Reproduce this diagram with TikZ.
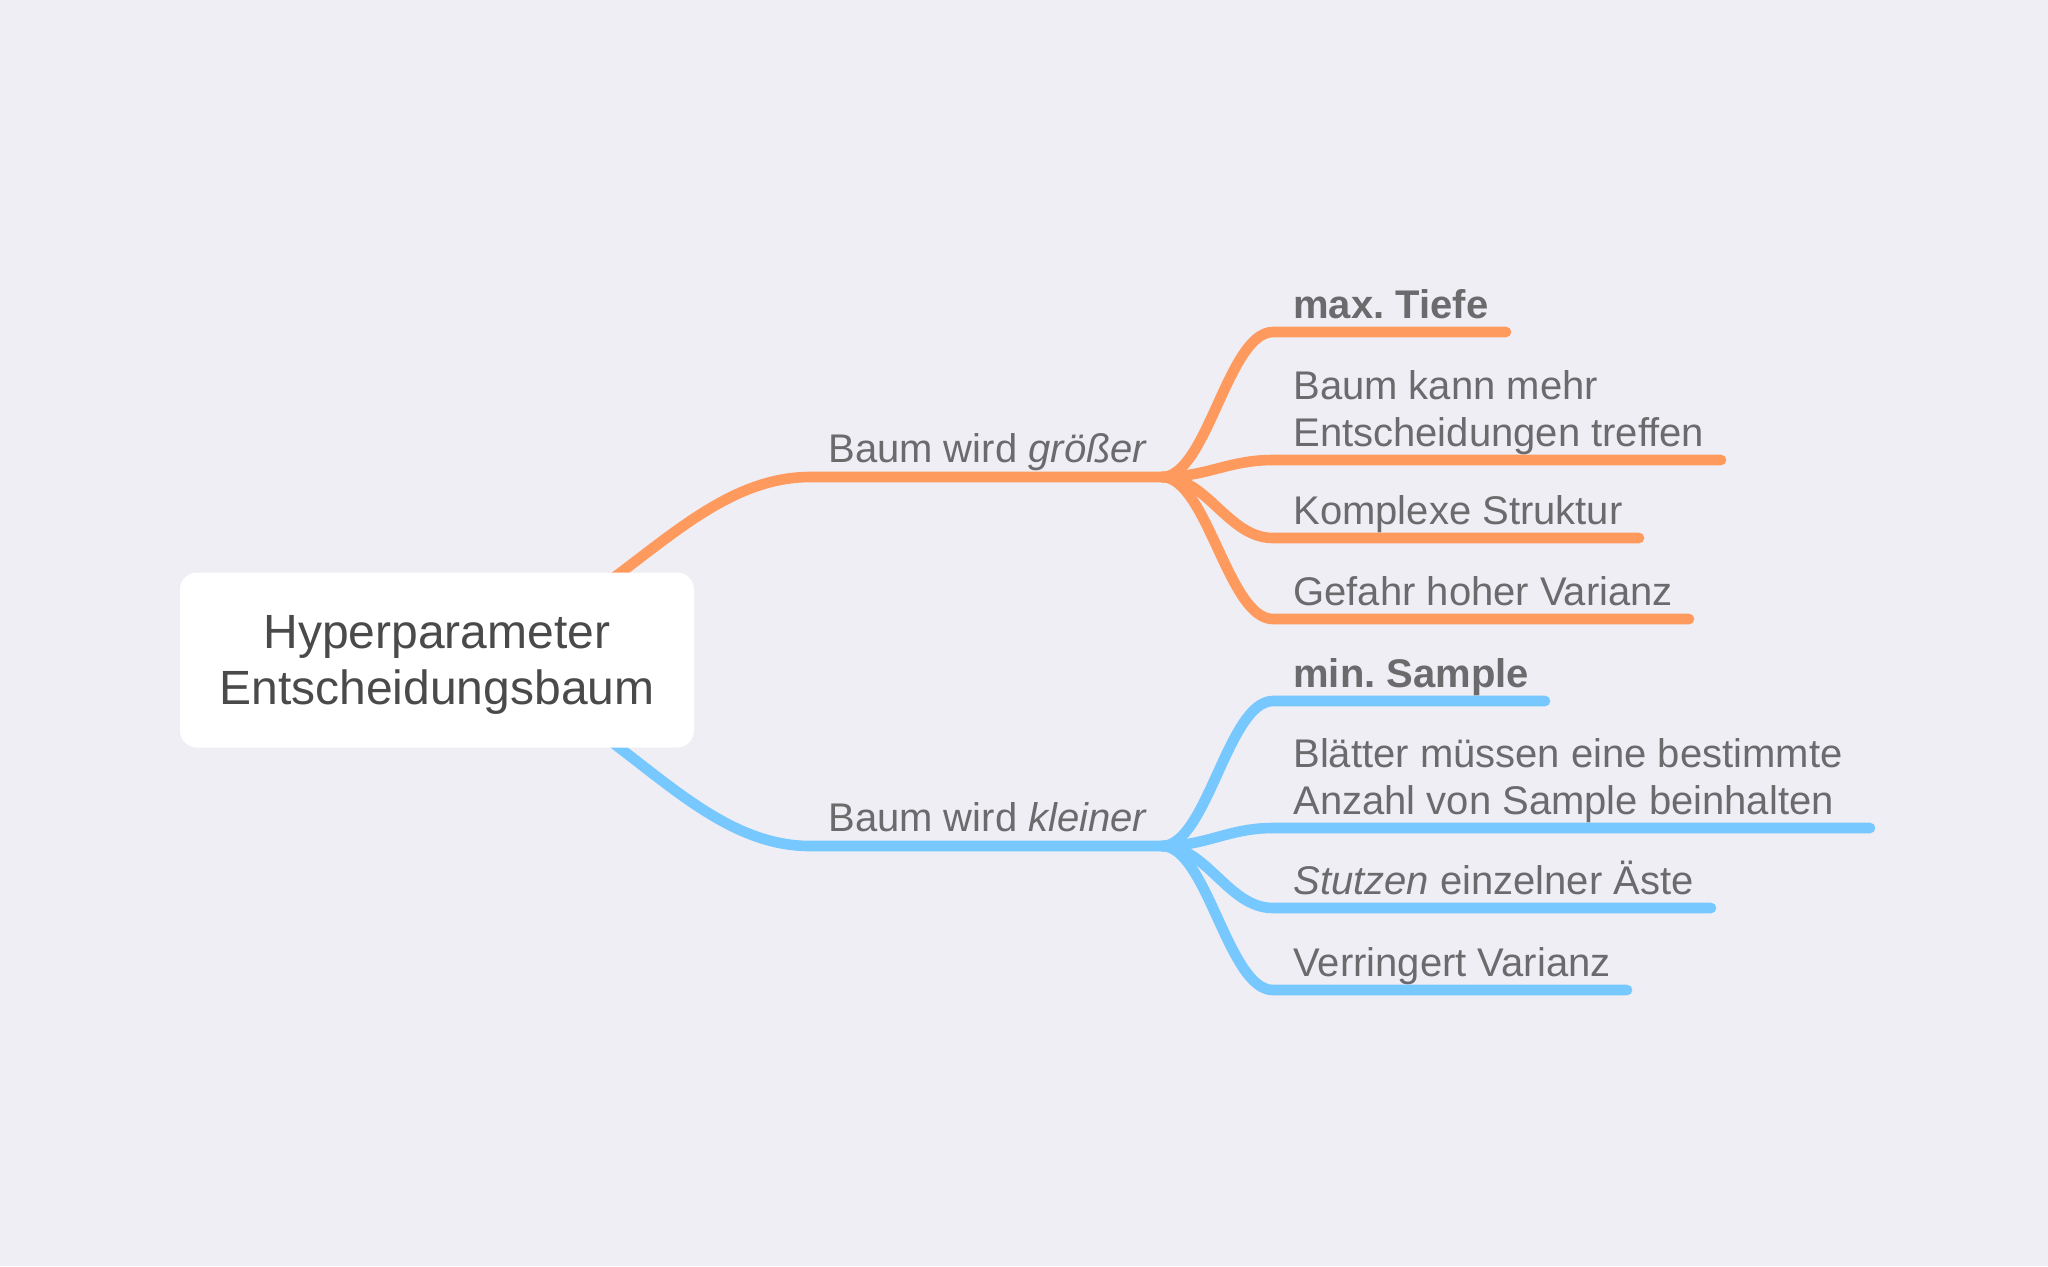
\documentclass[tikz,border=0pt]{standalone}
\usepackage{fontspec}
\setmainfont{Liberation Sans}
\usetikzlibrary{backgrounds}
\definecolor{mapback}{HTML}{EFEEF4}
\definecolor{mapgrow}{HTML}{FF9A5F}
\definecolor{mapshrink}{HTML}{76C8FE}
\definecolor{maptext}{HTML}{6B6B6E}
\definecolor{maproottext}{HTML}{4A4A4A}
\newcommand\leafx{1273}
\newcommand\leaftextx{1293}
\newcommand\leafrise{14}
\newcommand\leaffont{\fontsize{20}{23.5}\selectfont}
\tikzset{
  branchline/.style={line width=5.3pt, line cap=round},
  leaftext/.style={anchor=base west, inner sep=0pt, align=left, text=maptext, font=\leaffont},
  rootbox/.style={fill=white, rounded corners=8.5pt, minimum width=257pt, minimum height=87.5pt,
    align=center, text depth=0pt, text=maproottext, font=\fontsize{24}{28}\selectfont},
}
% name, colour, hub, line y, line end x, text
\newcommand\leaf[6]{
  \node[leaftext] (#1) at (\leaftextx, #4 - \leafrise) {#6};
  \coordinate (#1start) at (\leafx, #4);
  \coordinate (#1end) at (#5, #4);
  \begin{scope}[on background layer]
    \draw[branchline, #2] (#3) .. controls +(45, 0) and +(-45, 0) .. (#1start) -- (#1end);
  \end{scope}
}

\begin{document}
\begin{tikzpicture}[x=0.5pt, y=-0.5pt]
    \begin{scope}[on background layer]
      \fill[mapback] (0, 0) rectangle (2048, 1266);
    \end{scope}
    \useasboundingbox (0, 0) rectangle (2048, 1266);
    \node[rootbox] (root) at (437, 660) {Hyperparameter\\Entscheidungsbaum};
    \coordinate (growbend) at (810, 477);
    \coordinate (growhub) at (1162, 477);
    \coordinate (shrinkbend) at (810, 846);
    \coordinate (shrinkhub) at (1162, 846);
    \node[leaftext] (grow) at (828, 462) {Baum wird \textit{größer}};
    \node[leaftext] (shrink) at (828, 831) {Baum wird \textit{kleiner}};
    \begin{scope}[on background layer]
      \draw[branchline, mapgrow] (root.center) .. controls (600, 640) and (680, 477) .. (growbend) -- (growhub);
      \draw[branchline, mapshrink] (root.center) .. controls (600, 680) and (680, 846) .. (shrinkbend) -- (shrinkhub);
    \end{scope}
    % bigger tree
    \leaf{gdepth}{mapgrow}{growhub}{332}{1506}{\textbf{max.\ Tiefe}}
    \leaf{gdecide}{mapgrow}{growhub}{460}{1721}{Baum kann mehr\\Entscheidungen treffen}
    \leaf{gcomplex}{mapgrow}{growhub}{538}{1639}{Komplexe Struktur}
    \leaf{gvariance}{mapgrow}{growhub}{619}{1689}{Gefahr hoher Varianz}
    % smaller tree
    \leaf{sminimum}{mapshrink}{shrinkhub}{701}{1545}{\textbf{min.\ Sample}}
    \leaf{sleaves}{mapshrink}{shrinkhub}{828}{1870}{Blätter müssen eine bestimmte\\Anzahl von Sample beinhalten}
    \leaf{sprune}{mapshrink}{shrinkhub}{908}{1711}{\textit{Stutzen} einzelner Äste}
    \leaf{svariance}{mapshrink}{shrinkhub}{990}{1627}{Verringert Varianz}
\end{tikzpicture}
\end{document}
